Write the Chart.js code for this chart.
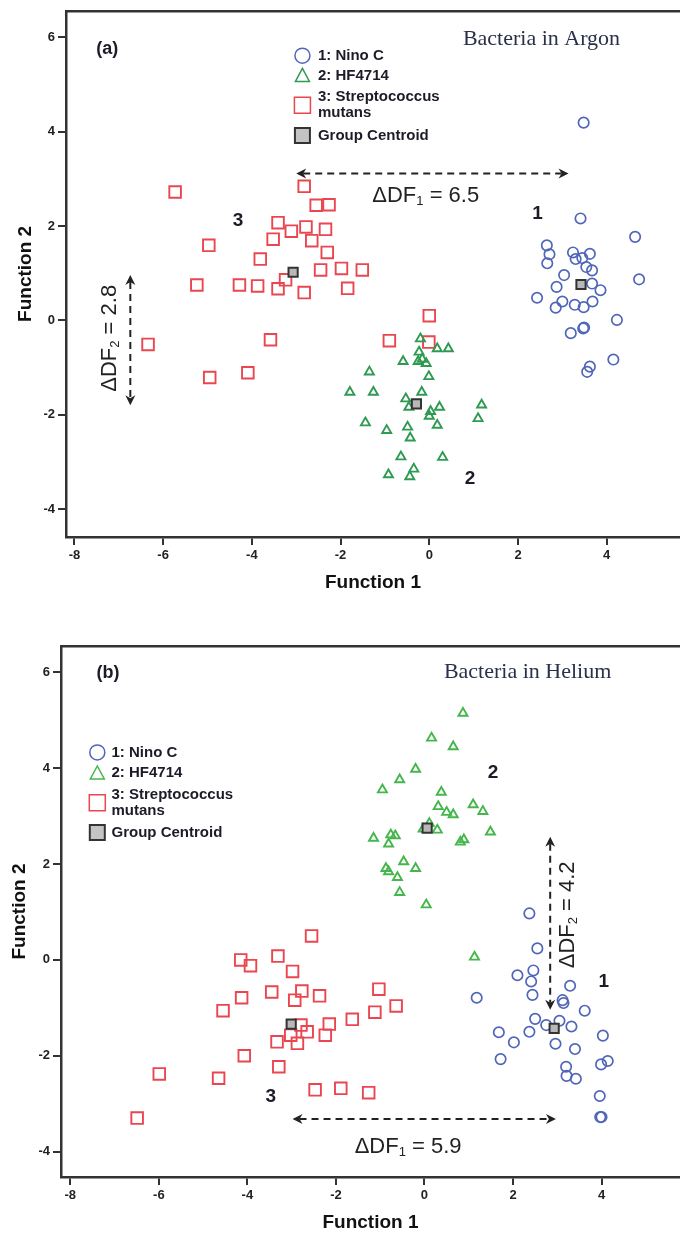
<!DOCTYPE html>
<html>
<head>
<meta charset="utf-8">
<script src="https://cdn.jsdelivr.net/npm/chart.js@4.4.1/dist/chart.umd.min.js"></script>
<style>
  html, body { margin: 0; padding: 0; background: #fff; overflow: hidden; }
  canvas { display: block; }
</style>
</head>
<body>
<canvas id="argon-chart" width="690" height="610"></canvas>
<canvas id="helium-chart" width="690" height="630"></canvas>
<script>
// values as [Function 1, Function 2]
var argonNino = [
  [3.48, 4.19], [3.41, 2.16], [4.64, 1.77], [2.65, 1.59], [2.71, 1.40], [2.66, 1.21],
  [3.24, 1.44], [3.30, 1.30], [3.45, 1.32], [3.62, 1.41], [3.54, 1.13], [3.67, 1.06],
  [3.04, 0.96], [2.87, 0.71], [3.67, 0.78], [3.86, 0.64], [4.73, 0.87], [2.43, 0.48],
  [2.85, 0.27], [3.00, 0.40], [3.28, 0.33], [3.48, 0.28], [3.68, 0.40], [4.23, 0.01],
  [3.19, -0.27], [3.47, -0.17], [3.49, -0.15], [4.15, -0.83], [3.62, -0.98], [3.56, -1.09]
];
var argonHF = [
  [-0.20, -0.39], [0.18, -0.60], [0.43, -0.60], [-0.23, -0.67], [-0.59, -0.87], [-0.25, -0.87],
  [-0.16, -0.82], [-0.07, -0.91], [-1.35, -1.09], [-0.01, -1.19], [-1.79, -1.52], [-1.26, -1.52],
  [-0.17, -1.52], [-0.53, -1.66], [-0.46, -1.84], [0.03, -1.93], [0.23, -1.84], [0.00, -2.03],
  [1.18, -1.79], [1.10, -2.08], [-1.44, -2.17], [0.18, -2.22], [-0.96, -2.33], [-0.49, -2.26],
  [-0.43, -2.49], [-0.64, -2.89], [0.30, -2.90], [-0.35, -3.15], [-0.92, -3.27], [-0.44, -3.31]
];
var argonStrep = [
  [-5.73, 2.72], [-2.82, 2.84], [-2.55, 2.44], [-2.26, 2.45], [-3.41, 2.07], [-3.11, 1.89],
  [-2.78, 1.98], [-2.34, 1.93], [-3.52, 1.72], [-2.65, 1.69], [-4.97, 1.59], [-2.30, 1.44],
  [-3.81, 1.30], [-2.45, 1.07], [-1.98, 1.10], [-1.51, 1.07], [-5.24, 0.75], [-4.28, 0.75],
  [-3.87, 0.73], [-3.41, 0.67], [-3.24, 0.86], [-2.82, 0.59], [-1.84, 0.68], [-6.34, -0.51],
  [-3.58, -0.41], [-4.95, -1.21], [-4.09, -1.11], [0.00, 0.10], [-0.90, -0.43], [-0.01, -0.46]
];
var argonCentroids = [[3.42, 0.76], [-0.29, -1.77], [-3.07, 1.02]];

var heliumNino = [
  [2.37, 0.97], [2.55, 0.24], [2.10, -0.32], [2.46, -0.22], [2.41, -0.45], [2.44, -0.73],
  [3.29, -0.54], [1.18, -0.79], [3.12, -0.84], [3.14, -0.90], [3.62, -1.06], [2.50, -1.23],
  [2.75, -1.36], [3.05, -1.27], [3.32, -1.39], [1.68, -1.51], [2.37, -1.50], [4.03, -1.58],
  [2.02, -1.72], [2.96, -1.75], [3.40, -1.86], [1.72, -2.07], [3.99, -2.18], [4.14, -2.11],
  [3.20, -2.23], [3.21, -2.42], [3.42, -2.48], [3.96, -2.84], [3.97, -3.28], [4.00, -3.28]
];
var heliumHF = [
  [0.87, 5.15], [0.16, 4.63], [0.65, 4.45], [-0.20, 3.98], [-0.56, 3.76], [-0.95, 3.55],
  [0.38, 3.50], [0.31, 3.20], [0.50, 3.08], [0.65, 3.03], [1.10, 3.24], [1.32, 3.10],
  [-1.15, 2.54], [-0.76, 2.61], [-0.66, 2.59], [-0.81, 2.42], [-0.03, 2.73], [0.11, 2.85],
  [0.29, 2.71], [1.49, 2.67], [0.81, 2.46], [0.89, 2.51], [-0.47, 2.05], [-0.87, 1.91],
  [-0.81, 1.84], [-0.20, 1.91], [-0.61, 1.72], [-0.56, 1.41], [0.04, 1.15], [1.13, 0.06]
];
var heliumStrep = [
  [-2.55, 0.50], [-4.15, 0.00], [-3.93, -0.12], [-3.31, 0.08], [-2.98, -0.24], [-3.45, -0.67],
  [-2.77, -0.65], [-2.93, -0.84], [-2.37, -0.75], [-4.13, -0.79], [-1.03, -0.61], [-0.64, -0.96],
  [-4.55, -1.06], [-1.12, -1.09], [-1.63, -1.24], [-2.15, -1.34], [-2.79, -1.36], [-2.65, -1.50],
  [-3.02, -1.57], [-2.24, -1.57], [-3.33, -1.71], [-2.87, -1.74], [-4.07, -2.00], [-3.29, -2.23],
  [-5.99, -2.38], [-4.65, -2.47], [-2.47, -2.71], [-1.89, -2.68], [-1.26, -2.77], [-6.49, -3.30]
];
var heliumCentroids = [[2.93, -1.43], [0.06, 2.75], [-3.01, -1.34]];

var xTicks = [-8, -6, -4, -2, 0, 2, 4];
var yTicks = [-4, -2, 0, 2, 4, 6];
var groupNames = ['1: Nino C', '2: HF4714', '3: Streptococcus', 'Group Centroid'];

var SANS = '"Liberation Sans", Arial, Helvetica, sans-serif';
var SERIF = '"Liberation Serif", "Times New Roman", serif';
var BLUE = '#5066b8';
var RED = '#ea4650';
var INK = '#1c1c28';

function toPoints(arr) {
    return arr.map(function(p) { return {x: p[0], y: p[1]}; });
}

function drawHead(ctx, x, y, ang) {
    ctx.save();
    ctx.translate(x, y);
    ctx.rotate(ang);
    ctx.beginPath();
    ctx.moveTo(0, 0);
    ctx.lineTo(-10, -5);
    ctx.lineTo(-7, 0);
    ctx.lineTo(-10, 5);
    ctx.closePath();
    ctx.fill();
    ctx.restore();
}

function drawArrow(ctx, x1, y1, x2, y2) {
    var a = Math.atan2(y2 - y1, x2 - x1);
    var dx = Math.cos(a) * 7, dy = Math.sin(a) * 7;
    ctx.strokeStyle = '#222';
    ctx.fillStyle = '#222';
    ctx.lineWidth = 2;
    ctx.setLineDash([7, 5]);
    ctx.beginPath();
    ctx.moveTo(x1 + dx, y1 + dy);
    ctx.lineTo(x2 - dx, y2 - dy);
    ctx.stroke();
    ctx.setLineDash([]);
    drawHead(ctx, x2, y2, a);
    drawHead(ctx, x1, y1, a + Math.PI);
}

function drawDelta(ctx, cx, cy, sub, value, rotated) {
    var big = '22px ' + SANS, small = '13px ' + SANS;
    ctx.font = big;
    var w1 = ctx.measureText('\u0394DF').width;
    var w3 = ctx.measureText(' = ' + value).width;
    ctx.font = small;
    var w2 = ctx.measureText(sub).width;
    var x = -(w1 + w2 + w3) / 2;
    ctx.save();
    ctx.translate(cx, cy);
    if (rotated) ctx.rotate(-Math.PI / 2);
    ctx.fillStyle = '#222';
    ctx.textAlign = 'left';
    ctx.textBaseline = 'middle';
    ctx.font = big;
    ctx.fillText('\u0394DF', x, 0);
    x += w1;
    ctx.font = small;
    ctx.fillText(sub, x, 6);
    x += w2;
    ctx.font = big;
    ctx.fillText(' = ' + value, x, 0);
    ctx.restore();
}

function drawMarker(ctx, kind, x, y, green) {
    ctx.lineWidth = 1.5;
    ctx.beginPath();
    if (kind === 'circle') {
        ctx.strokeStyle = BLUE;
        ctx.arc(x, y, 7.5, 0, Math.PI * 2);
        ctx.stroke();
    } else if (kind === 'triangle') {
        ctx.strokeStyle = green;
        ctx.moveTo(x, y - 7);
        ctx.lineTo(x - 7, y + 6);
        ctx.lineTo(x + 7, y + 6);
        ctx.closePath();
        ctx.stroke();
    } else if (kind === 'square') {
        ctx.strokeStyle = RED;
        ctx.rect(x - 8, y - 8, 16, 16);
        ctx.stroke();
    } else {
        ctx.fillStyle = '#c4c4c4';
        ctx.strokeStyle = '#333';
        ctx.lineWidth = 2;
        ctx.rect(x - 7.5, y - 7.5, 15, 15);
        ctx.fill();
        ctx.stroke();
    }
}

// texts, arrows and the in-plot legend, placed in data units
var notesPlugin = {
    id: 'notes',
    afterDatasetsDraw: function(chart, args, opts) {
        var ctx = chart.ctx, xs = chart.scales.x, ys = chart.scales.y;
        function px(v) { return xs.getPixelForValue(v); }
        function py(v) { return ys.getPixelForValue(v); }
        ctx.save();
        (opts.arrows || []).forEach(function(a) {
            drawArrow(ctx, px(a.from[0]), py(a.from[1]), px(a.to[0]), py(a.to[1]));
        });
        (opts.deltas || []).forEach(function(d) {
            drawDelta(ctx, px(d.at[0]), py(d.at[1]), d.sub, d.value, d.rotated);
        });
        (opts.texts || []).forEach(function(t) {
            ctx.font = t.font;
            ctx.fillStyle = t.color || INK;
            ctx.textAlign = 'center';
            ctx.textBaseline = 'middle';
            ctx.fillText(t.text, px(t.at[0]), py(t.at[1]));
        });
        var lg = opts.legend;
        if (lg) {
            var kinds = ['circle', 'triangle', 'square', 'centroid'];
            lg.rows.forEach(function(yv, i) {
                var mx = px(lg.markerX), my = py(yv), tx = px(lg.textX);
                drawMarker(ctx, kinds[i], mx, my, lg.green);
                ctx.font = 'bold 15px ' + SANS;
                ctx.fillStyle = INK;
                ctx.textAlign = 'left';
                ctx.textBaseline = 'middle';
                if (i === 2) {
                    ctx.fillText(groupNames[i], tx, my - 8);
                    ctx.fillText('mutans', tx, my + 8);
                } else {
                    ctx.fillText(groupNames[i], tx, my);
                }
            });
        }
        ctx.restore();
    }
};

function buildScales(p) {
    var tickFont = {family: SANS, size: 13, weight: 'bold'};
    var titleFont = {family: SANS, size: 19, weight: 'bold'};
    var frame = {display: true, color: '#333', width: 2.5};
    var marks = {display: true, drawOnChartArea: false, drawTicks: true, tickLength: 8, color: '#333', lineWidth: 2};
    return {
        x: {
            type: 'linear', position: 'bottom', min: p.xMin, max: p.xMax,
            afterBuildTicks: function(s) { s.ticks = xTicks.map(function(v) { return {value: v}; }); },
            afterFit: function(s) { s.height = p.xHeight; },
            grid: marks,
            border: frame,
            ticks: {color: '#222', font: tickFont, padding: 3, maxRotation: 0},
            title: {display: true, text: 'Function 1', color: '#111', font: titleFont, padding: {top: 0, bottom: p.xTitlePad}}
        },
        x2: {
            type: 'linear', position: 'top', min: p.xMin, max: p.xMax,
            afterFit: function(s) { s.height = 0; },
            grid: {display: false, drawTicks: false},
            border: frame,
            ticks: {display: false}
        },
        y: {
            type: 'linear', position: 'left', min: p.yMin, max: p.yMax,
            afterBuildTicks: function(s) { s.ticks = yTicks.map(function(v) { return {value: v}; }); },
            afterFit: function(s) { s.width = p.yWidth; },
            grid: marks,
            border: frame,
            ticks: {color: '#222', font: tickFont, padding: 3},
            title: {display: true, text: 'Function 2', color: '#111', font: titleFont, padding: {top: p.yTitlePad, bottom: 0}}
        }
    };
}

function buildConfig(p) {
    return {
        type: 'scatter',
        data: {
            datasets: [
                {label: 'Group Centroid', data: toPoints(p.centroids), pointStyle: 'rect', pointRadius: 6.5,
                 pointBorderColor: '#333', pointBackgroundColor: '#b8b8b8', pointBorderWidth: 2},
                {label: groupNames[0], data: toPoints(p.nino), pointStyle: 'circle', pointRadius: 5.2,
                 pointBorderColor: BLUE, pointBackgroundColor: 'rgba(0,0,0,0)', pointBorderWidth: 1.7},
                {label: groupNames[1], data: toPoints(p.hf), pointStyle: 'triangle', pointRadius: 5.2,
                 pointBorderColor: p.green, pointBackgroundColor: 'rgba(0,0,0,0)', pointBorderWidth: 1.9},
                {label: groupNames[2], data: toPoints(p.strep), pointStyle: 'rect', pointRadius: 8.2,
                 pointBorderColor: RED, pointBackgroundColor: 'rgba(0,0,0,0)', pointBorderWidth: 1.9}
            ]
        },
        options: {
            responsive: false,
            animation: false,
            layout: {padding: {top: p.padTop, left: 0, right: 0, bottom: 0}},
            scales: buildScales(p),
            plugins: {
                legend: {display: false},
                tooltip: {enabled: false},
                notes: p.notes
            }
        },
        plugins: [notesPlugin]
    };
}

var argonNotes = {
    arrows: [
        {from: [-3.0, 3.11], to: [3.14, 3.11]},
        {from: [-6.74, 0.96], to: [-6.74, -1.80]}
    ],
    deltas: [
        {at: [-0.08, 2.64], sub: '1', value: '6.5', rotated: false},
        {at: [-7.2, -0.38], sub: '2', value: '2.8', rotated: true}
    ],
    texts: [
        {text: '(a)', at: [-7.26, 5.76], font: 'bold 18px ' + SANS},
        {text: 'Bacteria in Argon', at: [2.53, 5.96], font: '22px ' + SERIF, color: '#28304a'},
        {text: '1', at: [2.44, 2.26], font: 'bold 19px ' + SANS},
        {text: '2', at: [0.92, -3.36], font: 'bold 19px ' + SANS},
        {text: '3', at: [-4.31, 2.12], font: 'bold 19px ' + SANS}
    ],
    legend: {markerX: -2.86, textX: -2.51, rows: [5.61, 5.19, 4.56, 3.92], green: '#2f9a52'}
};

var heliumNotes = {
    arrows: [
        {from: [-2.98, -3.32], to: [2.97, -3.32]},
        {from: [2.84, 2.57], to: [2.84, -1.04]}
    ],
    deltas: [
        {at: [-0.37, -3.90], sub: '1', value: '5.9', rotated: false},
        {at: [3.23, 0.94], sub: '2', value: '4.2', rotated: true}
    ],
    texts: [
        {text: '(b)', at: [-7.15, 5.99], font: 'bold 18px ' + SANS},
        {text: 'Bacteria in Helium', at: [2.33, 6.0], font: '22px ' + SERIF, color: '#28304a'},
        {text: '1', at: [4.05, -0.45], font: 'bold 19px ' + SANS},
        {text: '2', at: [1.55, 3.91], font: 'bold 19px ' + SANS},
        {text: '3', at: [-3.47, -2.85], font: 'bold 19px ' + SANS}
    ],
    legend: {markerX: -7.39, textX: -7.07, rows: [4.33, 3.90, 3.28, 2.66], green: '#44b64c'}
};

window.onload = function() {
    var argon_ctx = document.getElementById('argon-chart').getContext('2d');
    window.argonChart = new Chart(argon_ctx, buildConfig({
        nino: argonNino, hf: argonHF, strep: argonStrep, centroids: argonCentroids,
        green: '#2f9a52', notes: argonNotes,
        xMin: -8.19, xMax: 5.65, yMin: -4.59, yMax: 6.56,
        padTop: 5, xHeight: 73, yWidth: 66, xTitlePad: 16, yTitlePad: 14
    }));
    var helium_ctx = document.getElementById('helium-chart').getContext('2d');
    window.heliumChart = new Chart(helium_ctx, buildConfig({
        nino: heliumNino, hf: heliumHF, strep: heliumStrep, centroids: heliumCentroids,
        green: '#44b64c', notes: heliumNotes,
        xMin: -8.21, xMax: 5.77, yMin: -4.53, yMax: 6.55,
        padTop: 36, xHeight: 63, yWidth: 61, xTitlePad: 6, yTitlePad: 8
    }));
};
</script>
</body>
</html>
